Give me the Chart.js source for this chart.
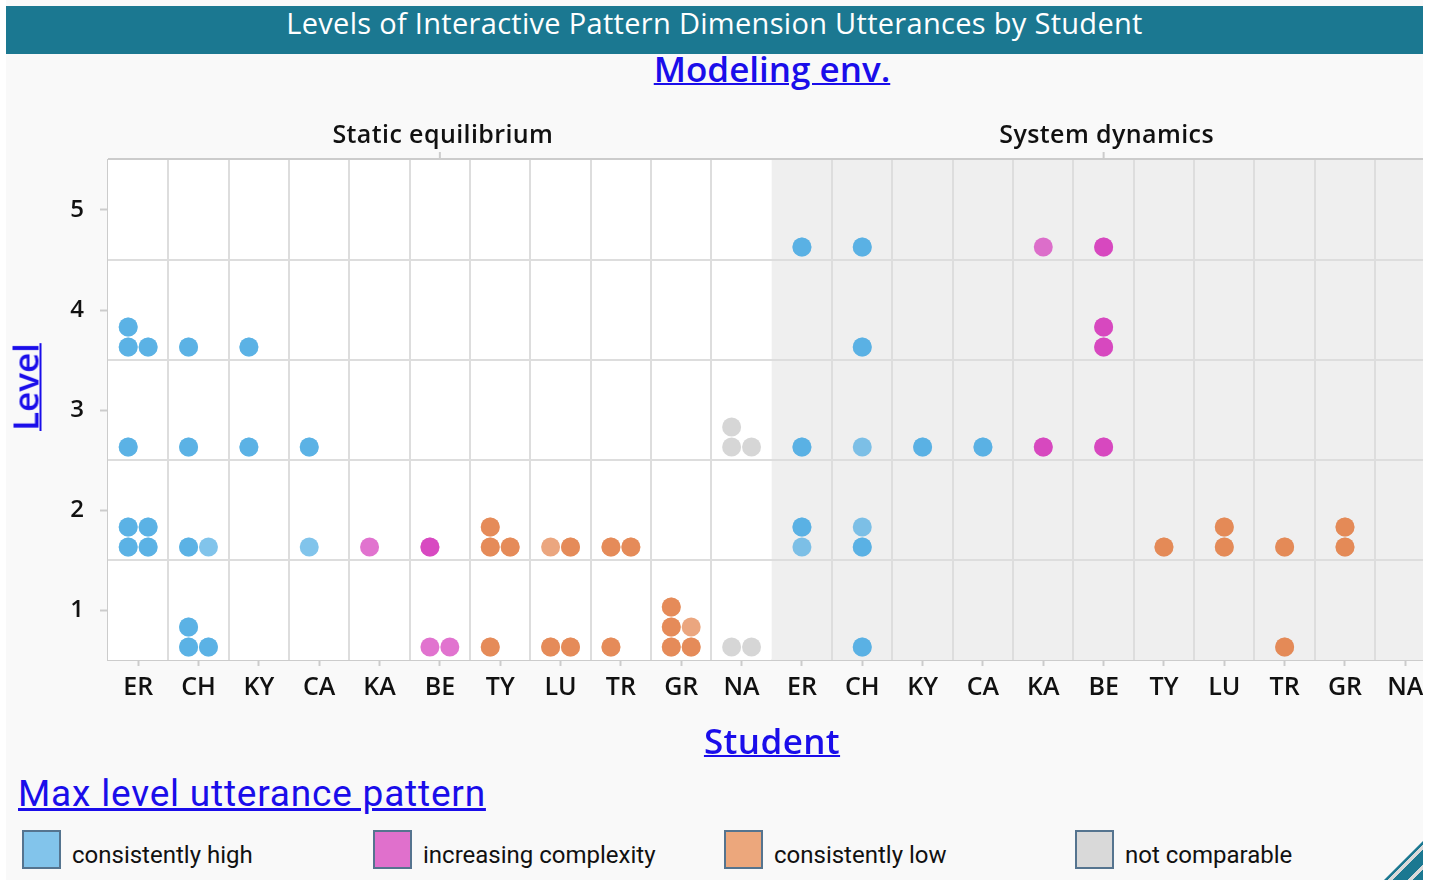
<!DOCTYPE html>
<html>
<head>
<meta charset="utf-8">
<script src="https://cdn.jsdelivr.net/npm/chart.js@4.4.1/dist/chart.umd.min.js"></script>
<style>
  html, body { margin: 0; padding: 0; background: #fff; }
  #frame { position: absolute; left: 6px; top: 0; width: 1417px; height: 880px; overflow: hidden; background: #f9f9f9; }
  #inner { position: absolute; left: -6px; top: 0; width: 1450px; height: 880px; }
  #titlebar { position: absolute; left: 6px; top: 6px; width: 1417px; height: 48px; background: #1b7891;
    color: #fff; font: 400 29px "Open Sans", sans-serif; letter-spacing: 0.3px; text-align: center; line-height: 34px; }
  .link { position: absolute; color: #1a0dea; text-decoration: underline; text-decoration-thickness: 2px;
    font: 600 35px "Open Sans", sans-serif; line-height: 49px; white-space: nowrap; }
  #env { left: 772px; top: 44px; transform: translateX(-50%); }
  #student { left: 772px; top: 716px; transform: translateX(-50%); letter-spacing: 0.4px; }
  #level { left: 25px; top: 387px; transform: translate(-50%, -50%) rotate(-90deg); }
  #cv { position: absolute; left: 0; top: 100px; }
  #legTitle { position: absolute; left: 18px; top: 772px; color: #1a0dea; text-decoration: underline;
    font: 400 37px Roboto, sans-serif; letter-spacing: 0.8px; white-space: nowrap; }
  .item { position: absolute; top: 830px; height: 40px; font: 400 24px Roboto, sans-serif; color: #111; white-space: nowrap; }
  .sw { position: absolute; left: 0; top: 0; width: 35px; height: 35px; border: 2px solid #55748f; }
  .item span { position: absolute; left: 50px; top: 11px; }
  #handle { position: absolute; left: 1384px; top: 840px; width: 40px; height: 40px;
    clip-path: polygon(100% 0, 100% 100%, 0 100%);
    background: repeating-linear-gradient(-45deg, #1b7891 0 8px, #d9d9d9 8px 12px, #1b7891 12px 14px); }
</style>
</head>
<body>
<div id="frame"><div id="inner">
  <div id="titlebar">Levels of Interactive Pattern Dimension Utterances by Student</div>
  <div class="link" id="env">Modeling env.</div>
  <canvas id="cv"></canvas>
  <div class="link" id="level">Level</div>
  <div class="link" id="student">Student</div>
  <div id="legTitle">Max level utterance pattern</div>
  <div id="legend"></div>
  <div id="handle"></div>
</div></div>
<script>
// students in column order (same order in both environments)
const students = ['ER', 'CH', 'KY', 'CA', 'KA', 'BE', 'TY', 'LU', 'TR', 'GR', 'NA'];
const environments = ['Static equilibrium', 'System dynamics'];
const levelTicks = [1, 2, 3, 4, 5];

// max level utterance pattern of each student
const patterns = ['consistently high', 'increasing complexity', 'consistently low', 'not comparable'];
const patternColors = ['rgba(76,171,226,0.7)', 'rgba(212,56,186,0.7)', 'rgba(226,128,72,0.7)', 'rgba(196,196,196,0.7)'];
const legendColors = ['#82c4eb', '#e070cc', '#eca77c', '#d9d9d9'];
const studentPattern = [0, 0, 0, 0, 1, 1, 2, 2, 2, 2, 3];

// [student, level, stack slot, utterances at that slot]
const staticDots = [
  ['ER', 4, 0, 2], ['ER', 4, 1, 2], ['ER', 4, 2, 2], ['ER', 3, 0, 2],
  ['ER', 2, 0, 2], ['ER', 2, 1, 2], ['ER', 2, 2, 2], ['ER', 2, 3, 2],
  ['CH', 4, 0, 2], ['CH', 3, 0, 2], ['CH', 2, 0, 2], ['CH', 2, 1, 1],
  ['CH', 1, 0, 2], ['CH', 1, 1, 2], ['CH', 1, 2, 2],
  ['KY', 4, 0, 2], ['KY', 3, 0, 2],
  ['CA', 3, 0, 2], ['CA', 2, 0, 1],
  ['KA', 2, 0, 1],
  ['BE', 2, 0, 2], ['BE', 1, 0, 1], ['BE', 1, 1, 1],
  ['TY', 2, 0, 2], ['TY', 2, 1, 2], ['TY', 2, 2, 2], ['TY', 1, 0, 2],
  ['LU', 2, 0, 1], ['LU', 2, 1, 2], ['LU', 1, 0, 2], ['LU', 1, 1, 2],
  ['TR', 2, 0, 2], ['TR', 2, 1, 2], ['TR', 1, 0, 2],
  ['GR', 1, 0, 2], ['GR', 1, 1, 2], ['GR', 1, 2, 2], ['GR', 1, 3, 1], ['GR', 1, 4, 2],
  ['NA', 3, 0, 1], ['NA', 3, 1, 1], ['NA', 3, 2, 1], ['NA', 1, 0, 1], ['NA', 1, 1, 1]
];
const dynamicDots = [
  ['ER', 5, 0, 2], ['ER', 3, 0, 2], ['ER', 2, 0, 1], ['ER', 2, 1, 2],
  ['CH', 5, 0, 2], ['CH', 4, 0, 2], ['CH', 3, 0, 1], ['CH', 2, 0, 2], ['CH', 2, 1, 1], ['CH', 1, 0, 2],
  ['KY', 3, 0, 2], ['CA', 3, 0, 2],
  ['KA', 5, 0, 1], ['KA', 3, 0, 2],
  ['BE', 5, 0, 2], ['BE', 4, 0, 2], ['BE', 4, 1, 2], ['BE', 3, 0, 2],
  ['TY', 2, 0, 2], ['LU', 2, 0, 2], ['LU', 2, 1, 2],
  ['TR', 2, 0, 2], ['TR', 1, 0, 2], ['GR', 2, 0, 2], ['GR', 2, 1, 2]
];

// stacking inside a cell: two dots per row for static, one per row for dynamics
function place(dots, envIndex, perRow) {
  const out = patterns.map(() => []);
  dots.forEach(([st, level, slot, n]) => {
    const si = students.indexOf(st);
    const col = slot % perRow, row = Math.floor(slot / perRow);
    const dx = perRow === 2 ? (col - 0.5) * 0.33 : 0;
    const pt = { x: envIndex * students.length + si + dx, y: level - 0.37 + row * 0.2 };
    for (let k = 0; k < n; k++) out[studentPattern[si]].push(pt);
  });
  return out;
}
const sPts = place(staticDots, 0, 2);
const dPts = place(dynamicDots, 1, 1);

const nCols = students.length * environments.length;
const labelFont = '"Open Sans", sans-serif';

const panels = {
  id: 'panels',
  beforeDatasetsDraw(chart) {
    const { ctx, scales: { x, y } } = chart;
    const top = y.getPixelForValue(5.5), bottom = y.getPixelForValue(0.5);
    ctx.save();
    environments.forEach((env, e) => {
      const l = x.getPixelForValue(e * students.length - 0.5);
      const r = x.getPixelForValue((e + 1) * students.length - 0.5);
      ctx.fillStyle = e === 0 ? '#ffffff' : '#efefef';
      ctx.fillRect(l, top, r - l, bottom - top);
    });
    ctx.strokeStyle = '#dddddd';
    ctx.lineWidth = 2;
    for (let k = 1; k < nCols; k++) {
      if (k === students.length) continue;
      const px = Math.round(x.getPixelForValue(k - 0.5));
      ctx.beginPath(); ctx.moveTo(px, top); ctx.lineTo(px, bottom); ctx.stroke();
    }
    for (let v = 1.5; v < 5.5; v++) {
      const py = Math.round(y.getPixelForValue(v));
      ctx.beginPath(); ctx.moveTo(x.left, py); ctx.lineTo(x.right, py); ctx.stroke();
    }
    // facet header axis
    ctx.strokeStyle = '#cccccc';
    ctx.beginPath(); ctx.moveTo(x.left, top - 1); ctx.lineTo(x.right, top - 1); ctx.stroke();
    ctx.font = '600 25px ' + labelFont;
    ctx.letterSpacing = '0.4px';
    ctx.fillStyle = '#111';
    ctx.textAlign = 'center';
    ctx.textBaseline = 'middle';
    environments.forEach((env, e) => {
      const c = x.getPixelForValue(e * students.length + (students.length - 1) / 2);
      ctx.beginPath(); ctx.moveTo(c, top - 1); ctx.lineTo(c, top - 8); ctx.stroke();
      ctx.fillText(env, c + 3, top - 24);
    });
    ctx.restore();
  }
};

const cv = document.getElementById('cv');
cv.width = 1445; cv.height = 620;
cv.style.width = '1445px'; cv.style.height = '620px';

new Chart(cv, {
  type: 'scatter',
  data: {
    datasets: patterns.map((p, i) => ({
      label: p,
      data: sPts[i].concat(dPts[i]),
      backgroundColor: patternColors[i],
      borderWidth: 0,
      pointRadius: 9.5,
      pointHoverRadius: 9.5
    }))
  },
  options: {
    responsive: false,
    animation: false,
    layout: { padding: { top: 60, right: 8, left: 0, bottom: 0 } },
    plugins: { legend: { display: false }, tooltip: { enabled: false } },
    scales: {
      x: {
        type: 'linear', min: -0.5, max: nCols - 0.5,
        afterBuildTicks: (ax) => { ax.ticks = Array.from({ length: nCols }, (_, i) => ({ value: i })); },
        afterFit: (ax) => { ax.height = 60; },
        ticks: {
          callback: (v) => students[v % students.length],
          color: '#111', padding: 7, maxRotation: 0, autoSkip: false,
          font: { family: labelFont, size: 25, weight: '600' }
        },
        grid: { drawOnChartArea: false, drawTicks: true, tickLength: 6, tickColor: '#cccccc', tickWidth: 2 },
        border: { color: '#cccccc', width: 2 }
      },
      y: {
        type: 'linear', min: 0.5, max: 5.5,
        afterBuildTicks: (ax) => { ax.ticks = levelTicks.map(v => ({ value: v })); },
        afterFit: (ax) => { ax.width = 108; },
        ticks: {
          color: '#111', padding: 16,
          font: { family: labelFont, size: 24, weight: '600' }
        },
        grid: { drawOnChartArea: false, drawTicks: true, tickLength: 8, tickColor: '#cccccc', tickWidth: 2 },
        border: { color: '#cccccc', width: 2 }
      }
    }
  },
  plugins: [panels]
});

// legend
const leg = document.getElementById('legend');
patterns.forEach((p, i) => {
  const d = document.createElement('div');
  d.className = 'item';
  d.style.left = (22 + i * 351) + 'px';
  d.innerHTML = '<div class="sw" style="background:' + legendColors[i] + '"></div><span>' + p + '</span>';
  leg.appendChild(d);
});
</script>
</body>
</html>
